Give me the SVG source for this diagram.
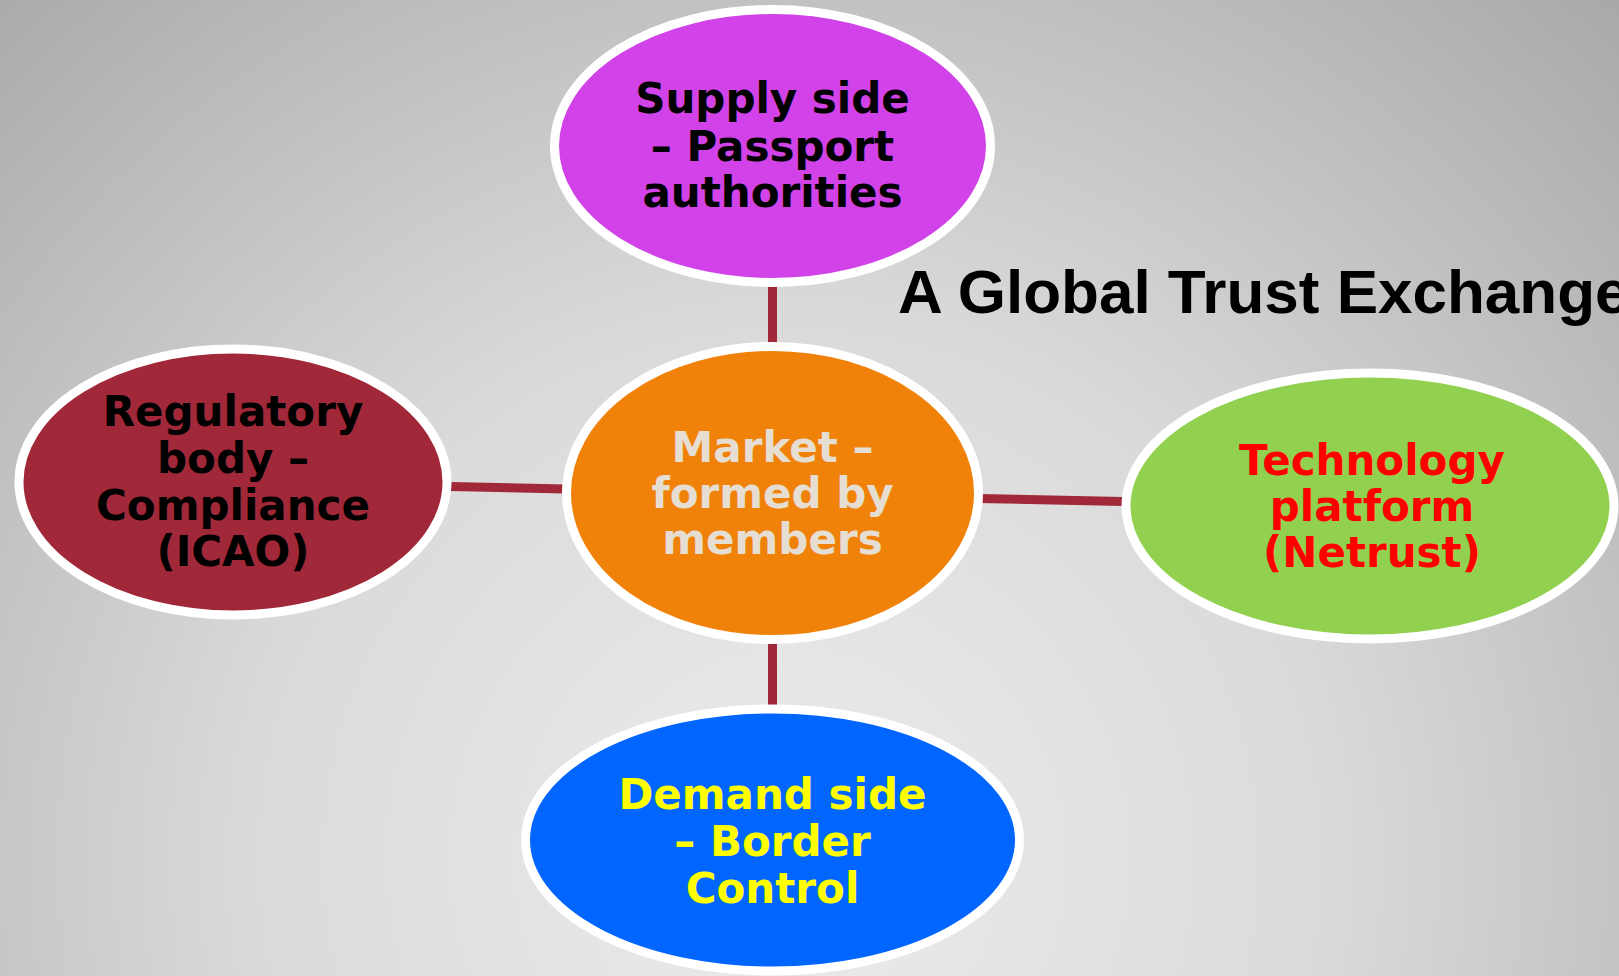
<svg xmlns="http://www.w3.org/2000/svg" width="1619" height="976" viewBox="0 0 1619 976">
<defs>
<radialGradient id="bg" gradientUnits="userSpaceOnUse" cx="790" cy="860" r="1200">
<stop offset="0" stop-color="#ececec"/>
<stop offset="0.45" stop-color="#dadada"/>
<stop offset="1" stop-color="#a8a8a8"/>
</radialGradient>
<style>
.node{stroke:#ffffff;stroke-width:9}
.lbl{font-family:"DejaVu Sans",Verdana,sans-serif;font-weight:bold;font-size:42px;text-anchor:middle}
.conn{stroke:#A02838;stroke-width:9;fill:none}
.title{font-family:"Liberation Sans",Arial,sans-serif;font-weight:bold;font-size:62px;fill:#000000}
</style>
</defs>
<rect x="0" y="0" width="1619" height="976" fill="url(#bg)"/>
<g id="connectors">
<line class="conn" x1="772.5" y1="284" x2="772.5" y2="344"/>
<line class="conn" x1="772.5" y1="641" x2="772.5" y2="707"/>
<line class="conn" x1="450" y1="486.5" x2="565" y2="489"/>
<line class="conn" x1="979" y1="498.5" x2="1123" y2="501.5"/>
</g>
<g id="supply">
<ellipse class="node" cx="772.5" cy="146" rx="218" ry="136.5" fill="#D143E8"/>
<text class="lbl" fill="#000000"><tspan x="772.5" y="113">Supply side</tspan><tspan x="772.5" y="160.5">– Passport</tspan><tspan x="772.5" y="207">authorities</tspan></text>
</g>
<g id="market">
<ellipse class="node" cx="772.5" cy="493" rx="206" ry="146.5" fill="#F0820A"/>
<text class="lbl" fill="#E6DED2"><tspan x="772.5" y="462">Market –</tspan><tspan x="772.5" y="508">formed by</tspan><tspan x="772.5" y="554">members</tspan></text>
</g>
<g id="regulatory">
<ellipse class="node" cx="233" cy="482" rx="214" ry="133" fill="#A02838"/>
<text class="lbl" fill="#000000"><tspan x="233" y="426">Regulatory</tspan><tspan x="233" y="473">body –</tspan><tspan x="233" y="520">Compliance</tspan><tspan x="233" y="566">(ICAO)</tspan></text>
</g>
<g id="technology">
<ellipse class="node" cx="1370" cy="506" rx="244" ry="133" fill="#92D050"/>
<text class="lbl" fill="#FF0000"><tspan x="1372" y="475">Technology</tspan><tspan x="1372" y="521">platform</tspan><tspan x="1372" y="567">(Netrust)</tspan></text>
</g>
<g id="demand">
<ellipse class="node" cx="772.5" cy="840" rx="247" ry="131" fill="#0066FF"/>
<text class="lbl" fill="#FFFF00"><tspan x="772.5" y="809">Demand side</tspan><tspan x="772.5" y="856">– Border</tspan><tspan x="772.5" y="903">Control</tspan></text>
</g>
<text id="title" class="title" x="898" y="313">A Global Trust Exchange</text>
</svg>
